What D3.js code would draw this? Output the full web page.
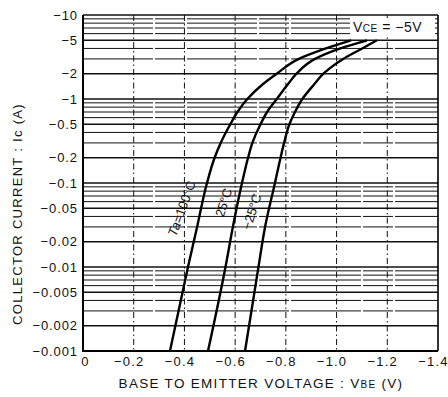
<!DOCTYPE html>
<html><head><meta charset="utf-8">
<script src="https://cdn.jsdelivr.net/npm/d3@7"></script>
<style>
body{margin:0;background:#fff}
svg{display:block}
text{font-family:"Liberation Sans",Arial,sans-serif;fill:#111}
</style>
</head><body><svg id="chart" width="448" height="397"></svg>
<script>
// Collector current magnitude (A) at which each curve is sampled
const currents = [0.001, 0.01, 0.03, 0.1, 0.2, 0.3, 0.5, 0.7, 1, 1.5, 2, 3, 4, 5];
// |VBE| (V) for each ambient temperature
const vbe100 = [0.343, 0.414, 0.450, 0.489, 0.519, 0.543, 0.581, 0.609, 0.648, 0.709, 0.764, 0.851, 0.958, 1.057];
const vbe25 = [0.493, 0.562, 0.591, 0.627, 0.651, 0.668, 0.700, 0.726, 0.764, 0.808, 0.842, 0.915, 1.015, 1.120];
const vbeM25 = [0.639, 0.692, 0.718, 0.757, 0.779, 0.793, 0.814, 0.836, 0.865, 0.912, 0.948, 1.026, 1.101, 1.159];

const yTicks = [10, 5, 2, 1, 0.5, 0.2, 0.1, 0.05, 0.02, 0.01, 0.005, 0.002, 0.001];
const yTickLabels = ["−10", "−5", "−2", "−1", "−0.5", "−0.2", "−0.1", "−0.05", "−0.02", "−0.01", "−0.005", "−0.002", "−0.001"];
const xTicks = [0, 0.2, 0.4, 0.6, 0.8, 1.0, 1.2, 1.4];
const xTickLabels = ["0", "−0.2", "−0.4", "−0.6", "−0.8", "−1.0", "−1.2", "−1.4"];

const svg = d3.select("#chart");
const plotL = 83, plotR = 438, plotT = 15, plotB = 351;
const x = d3.scaleLinear().domain([0, 1.4]).range([plotL, plotR]);
const y = d3.scaleLog().domain([0.001, 10]).range([plotB, plotT]);

// horizontal grid at every 1..9 step of each decade
const gridVals = [];
for (let k = -3; k <= 0; k++) for (let m = 1; m <= 9; m++) gridVals.push(+(m * Math.pow(10, k)).toPrecision(3));
gridVals.push(10);
svg.append("g").selectAll("line").data(gridVals).join("line")
  .attr("x1", plotL).attr("x2", plotR)
  .attr("y1", d => y(d)).attr("y2", d => y(d))
  .attr("stroke", "#111")
  .attr("stroke-width", d => yTicks.includes(d) ? 1.4 : 1)
  .attr("stroke-dasharray", d => yTicks.includes(d) ? null : "70,2,30,2");

// vertical dash-dot grid
svg.append("g").selectAll("line").data(xTicks.slice(1, -1)).join("line")
  .attr("x1", d => x(d)).attr("x2", d => x(d))
  .attr("y1", plotT).attr("y2", plotB)
  .attr("stroke", "#111").attr("stroke-width", 1)
  .attr("stroke-dasharray", "6,3,1.5,3");

// frame
svg.append("line").attr("x1", plotL).attr("x2", plotL).attr("y1", plotT).attr("y2", plotB).attr("stroke", "#000").attr("stroke-width", 2);
svg.append("line").attr("x1", plotL - 1).attr("x2", plotR).attr("y1", plotB).attr("y2", plotB).attr("stroke", "#000").attr("stroke-width", 2);
svg.append("line").attr("x1", plotR).attr("x2", plotR).attr("y1", plotT).attr("y2", plotB).attr("stroke", "#000").attr("stroke-width", 1.6);

// axes
const yAxis = d3.axisLeft(y).tickValues(yTicks).tickSize(0).tickPadding(5)
  .tickFormat((d, i) => yTickLabels[i]);
const gy = svg.append("g").attr("transform", `translate(${plotL},0)`).call(yAxis);
gy.select(".domain").remove();
gy.selectAll("text").attr("font-size", 13).attr("letter-spacing", 0.9)
  .attr("font-family", "Liberation Sans, Arial, sans-serif").attr("fill", "#111");

const xAxis = d3.axisBottom(x).tickValues(xTicks).tickSize(0).tickPadding(6)
  .tickFormat((d, i) => xTickLabels[i]);
const gx = svg.append("g").attr("transform", `translate(0,${plotB})`).call(xAxis);
gx.select(".domain").remove();
gx.selectAll("text").attr("font-size", 13).attr("letter-spacing", 1.2)
  .attr("font-family", "Liberation Sans, Arial, sans-serif").attr("fill", "#111")
  .attr("dx", (d, i) => i === 0 ? 2 : -5);

// curves
const series = [vbe100, vbe25, vbeM25];
const line = d3.line().x(d => x(d[0])).y(d => y(d[1])).curve(d3.curveMonotoneY);
svg.append("g").selectAll("path").data(series).join("path")
  .attr("d", s => line(s.map((v, i) => [v, currents[i]])))
  .attr("fill", "none").attr("stroke", "#000").attr("stroke-width", 2.4);

// curve labels
const lab = svg.append("g").attr("font-size", 13);
lab.append("text").attr("transform", "translate(186,210) rotate(-70)").attr("text-anchor", "middle")
  .html('<tspan font-style="italic">Ta</tspan>=100°C');
lab.append("text").attr("transform", "translate(228,204) rotate(-72)").attr("text-anchor", "middle").text("25°C");
lab.append("text").attr("transform", "translate(256,213) rotate(-72)").attr("text-anchor", "middle").text("−25°C");

// VCE condition
svg.append("rect").attr("x", 350).attr("y", 18).attr("width", 85).attr("height", 18).attr("fill", "#fff");
svg.append("text").attr("x", 353).attr("y", 32).attr("font-size", 14).attr("letter-spacing", 0.5)
  .html('V<tspan font-size="10">CE</tspan> = −5V');

// axis titles
svg.append("text").attr("x", 261).attr("y", 388).attr("text-anchor", "middle").attr("font-size", 13.5)
  .attr("letter-spacing", 1.3)
  .html('BASE TO EMITTER VOLTAGE : V<tspan font-size="10">BE</tspan> (V)');
svg.append("text").attr("transform", "translate(22,214) rotate(-90)").attr("text-anchor", "middle").attr("font-size", 13)
  .attr("letter-spacing", 1.3)
  .text("COLLECTOR CURRENT : Ic (A)");
</script>
</body></html>
